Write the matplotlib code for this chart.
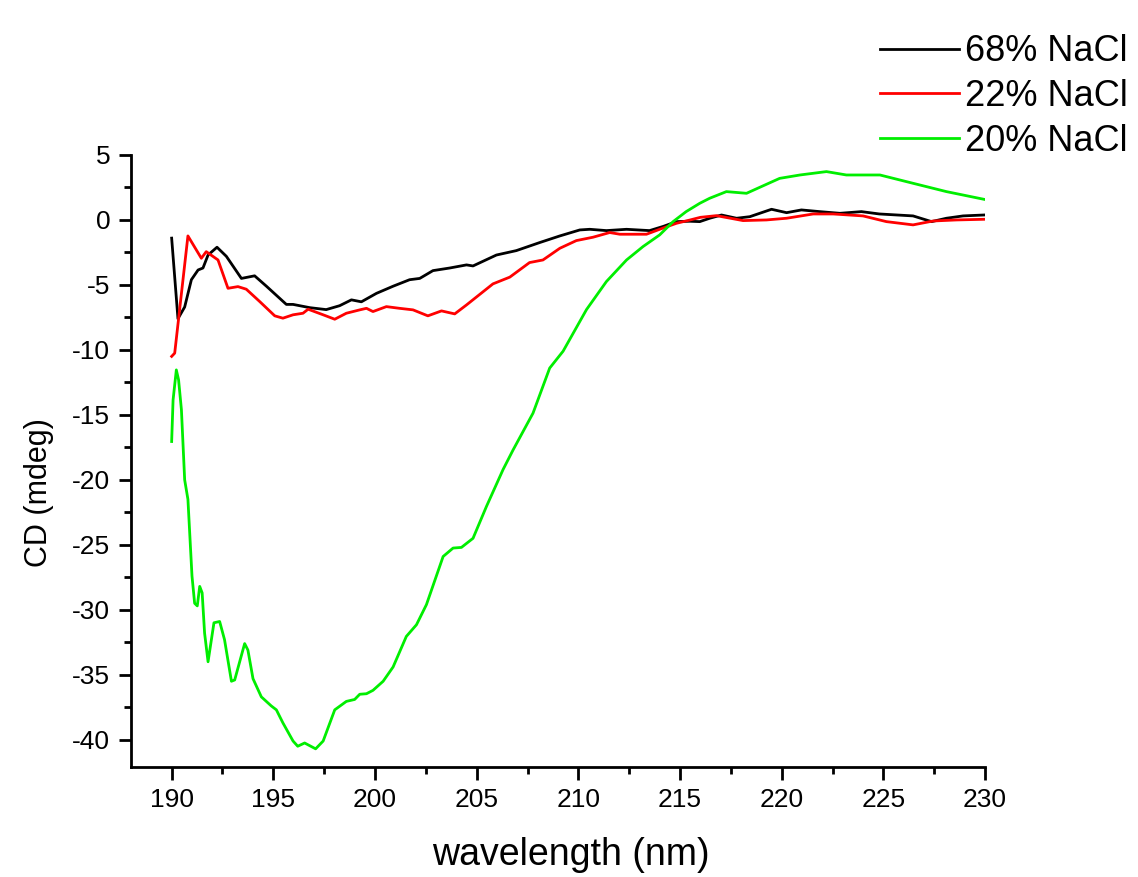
import matplotlib
matplotlib.use("Agg")
import matplotlib.pyplot as plt
import numpy as np
from matplotlib.ticker import MultipleLocator

plt.rcParams['font.family'] = ['Liberation Sans', 'DejaVu Sans']
plt.rcParams['axes.unicode_minus'] = False

# CD spectra, wavelength (nm) vs ellipticity (mdeg)
wl_68 = [190.0, 190.31, 190.64, 190.97, 191.3, 191.54, 191.79, 192.23, 192.69, 193.43,
         194.08, 194.66, 195.64, 195.97, 196.79, 197.6, 198.26, 198.84, 199.33, 200.07,
         200.89, 201.7, 202.2, 202.85, 203.67, 204.5, 204.82, 205.97, 206.95, 208.1,
         209.09, 210.07, 210.56, 211.38, 212.37, 213.5, 214.17, 214.82, 215.48, 215.97,
         216.46, 217.04, 217.78, 218.43, 219.5, 220.24, 220.97, 221.87, 222.86, 223.92,
         224.8, 226.46, 227.37, 228.1, 228.92, 229.94]
cd_68 = [-1.4, -7.6, -6.7, -4.6, -3.85, -3.7, -2.7, -2.1, -2.8, -4.5,
         -4.3, -5.1, -6.5, -6.5, -6.75, -6.9, -6.6, -6.15, -6.3, -5.65,
         -5.1, -4.6, -4.5, -3.9, -3.7, -3.46, -3.54, -2.7, -2.36, -1.74,
         -1.23, -0.77, -0.72, -0.82, -0.72, -0.82, -0.5, -0.13, -0.1, -0.13,
         0.13, 0.38, 0.13, 0.25, 0.82, 0.56, 0.77, 0.64, 0.51, 0.64,
         0.46, 0.31, -0.13, 0.13, 0.31, 0.38]

wl_22 = [190.0, 190.15, 190.8, 191.46, 191.7, 192.28, 192.77, 193.26, 193.67, 194.33,
         195.07, 195.47, 195.97, 196.46, 196.71, 197.45, 198.02, 198.59, 199.25, 199.58,
         199.9, 200.56, 201.2, 201.87, 202.6, 203.27, 203.92, 204.5, 205.8, 206.63,
         207.6, 208.26, 209.09, 209.9, 210.72, 211.54, 212.04, 213.35, 214.0, 214.82,
         215.5, 216.0, 216.79, 218.1, 219.25, 220.24, 221.55, 222.53, 224.0, 225.15,
         226.46, 227.45, 228.6, 229.94]
cd_22 = [-10.5, -10.25, -1.23, -2.95, -2.44, -3.08, -5.26, -5.13, -5.33, -6.28,
         -7.38, -7.56, -7.3, -7.18, -6.87, -7.3, -7.64, -7.18, -6.92, -6.8,
         -7.05, -6.67, -6.8, -6.92, -7.38, -7.0, -7.23, -6.54, -4.92, -4.4,
         -3.28, -3.08, -2.18, -1.59, -1.33, -0.97, -1.1, -1.1, -0.72, -0.26,
         0.0, 0.2, 0.33, -0.05, 0.0, 0.13, 0.46, 0.46, 0.31, -0.13,
         -0.38, -0.08, 0.0, 0.05]

wl_20 = [190.0, 190.07, 190.23, 190.34, 190.48, 190.64, 190.8, 191.0, 191.13, 191.26,
         191.38, 191.5, 191.62, 191.79, 192.08, 192.36, 192.6, 192.94, 193.1, 193.59,
         193.75, 194.0, 194.41, 194.9, 195.15, 195.47, 195.97, 196.2, 196.54, 197.08,
         197.45, 198.02, 198.59, 199.0, 199.25, 199.58, 199.9, 200.4, 200.89, 201.54,
         202.04, 202.53, 203.35, 203.84, 204.25, 204.82, 205.48, 206.3, 206.79, 207.77,
         208.59, 209.25, 210.4, 211.38, 212.37, 213.18, 214.0, 214.66, 215.3, 215.97,
         216.46, 217.28, 218.27, 218.92, 219.9, 220.9, 222.2, 223.18, 224.83, 226.46,
         228.1, 229.94]
cd_20 = [-17.05, -13.85, -11.54, -12.3, -14.6, -20.0, -21.5, -27.4, -29.5, -29.7,
         -28.2, -28.7, -31.8, -34.0, -31.0, -30.9, -32.3, -35.5, -35.4, -32.6,
         -33.1, -35.3, -36.7, -37.4, -37.7, -38.7, -40.1, -40.5, -40.25, -40.7,
         -40.1, -37.7, -37.05, -36.9, -36.5, -36.46, -36.2, -35.5, -34.4, -32.05,
         -31.15, -29.6, -25.9, -25.25, -25.2, -24.5, -22.05, -19.2, -17.7, -14.87,
         -11.4, -10.1, -6.9, -4.74, -3.08, -2.05, -1.15, -0.13, 0.64, 1.28,
         1.67, 2.18, 2.05, 2.51, 3.2, 3.46, 3.72, 3.46, 3.46, 2.82,
         2.18, 1.59]

labels = ['68% NaCl', '22% NaCl', '20% NaCl']
colors = ['black', '#ff0000', '#00ee00']

fig = plt.figure(figsize=(11.38, 8.77), dpi=100)
ax = fig.add_axes([0.1151, 0.1254, 0.7505, 0.6979])

ax.plot(wl_68, cd_68, color=colors[0], lw=2.0, label=labels[0])
ax.plot(wl_22, cd_22, color=colors[1], lw=2.0, label=labels[1])
ax.plot(wl_20, cd_20, color=colors[2], lw=2.0, label=labels[2])

ax.set_xlim(188.0, 230)
ax.set_ylim(-42.1, 5)
ax.xaxis.set_major_locator(MultipleLocator(5))
ax.xaxis.set_minor_locator(MultipleLocator(2.5))
ax.yaxis.set_major_locator(MultipleLocator(5))
ax.yaxis.set_minor_locator(MultipleLocator(2.5))

for side in ['top', 'right']:
    ax.spines[side].set_visible(False)
for side in ['left', 'bottom']:
    ax.spines[side].set_linewidth(2)

ax.tick_params(which='major', direction='out', length=9, width=2, labelsize=19)
ax.tick_params(which='minor', direction='out', length=5, width=2)
ax.tick_params(axis='y', which='major', pad=6)
ax.tick_params(axis='x', which='major', pad=6)

ax.set_xlabel('wavelength (nm)', fontsize=27)
ax.set_ylabel('CD (mdeg)', fontsize=22)
ax.xaxis.set_label_coords(0.515, -0.115)
ax.yaxis.set_label_coords(-0.09, 0.448)

fig.legend(loc='upper left', bbox_to_anchor=(0.7733, 0.961), frameon=False,
           fontsize=26, handlelength=2.2, handletextpad=0.15, labelspacing=0.27,
           borderpad=0, borderaxespad=0)

fig.savefig('out.png', dpi=100)
